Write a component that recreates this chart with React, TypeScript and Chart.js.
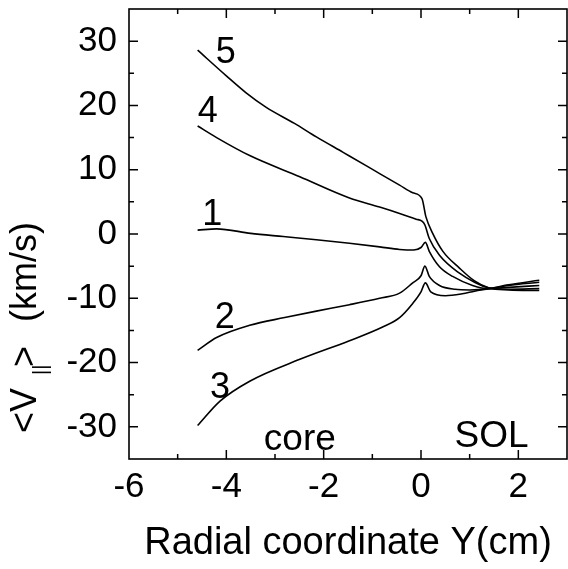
import { useEffect, useRef } from 'react';
import { Chart, registerables } from 'chart.js';

Chart.register(...registerables);

// ---- data ----
const x1 = [-4.59, -4.2, -3.5, -2.83, -2.15, -1.47, -0.85, -0.44, -0.15, 0.0, 0.09, 0.17, 0.38, 0.65, 1.06, 1.4, 1.8, 2.43];
const y1 = [0.6, 0.8, 0.1, -0.4, -0.9, -1.45, -2.0, -2.4, -2.5, -2.1, -1.3, -2.7, -5.1, -6.6, -8.0, -8.5, -8.3, -8.0];

const x2 = [-4.59, -4.2, -3.52, -2.8, -2.15, -1.47, -0.85, -0.44, -0.17, 0.0, 0.08, 0.17, 0.38, 0.7, 1.0, 1.4, 1.8, 2.43];
const y2 = [-18.1, -16.1, -14.2, -13.0, -12.0, -11.0, -10.0, -9.2, -7.6, -6.5, -5.0, -6.6, -8.0, -8.6, -8.7, -8.5, -8.0, -7.5];

const x3 = [-4.59, -4.13, -3.52, -2.49, -1.47, -0.8, -0.44, -0.17, 0.0, 0.09, 0.2, 0.5, 0.85, 1.1, 1.4, 1.8, 2.43];
const y3 = [-29.8, -26.0, -22.9, -19.5, -16.6, -14.5, -13.0, -10.8, -9.0, -7.6, -9.0, -9.6, -9.3, -8.9, -8.5, -7.9, -7.2];

const x4 = [-4.59, -4.2, -3.52, -2.49, -1.47, -0.85, -0.44, -0.1, 0.02, 0.08, 0.17, 0.38, 0.79, 1.1, 1.4, 1.8, 2.43];
const y4 = [16.8, 15.0, 12.2, 8.9, 5.6, 4.2, 3.2, 2.3, 2.0, 1.4, -0.7, -3.3, -6.1, -7.5, -8.4, -8.6, -8.5];

const x5 = [-4.59, -4.0, -3.6, -3.18, -2.6, -2.15, -1.6, -1.12, -0.85, -0.44, -0.17, 0.02, 0.1, 0.24, 0.45, 0.79, 1.1, 1.4, 1.8, 2.43];
const y5 = [28.6, 24.6, 22.0, 19.7, 17.2, 15.1, 12.7, 10.6, 9.4, 7.6, 6.4, 5.5, 2.7, 0.1, -2.7, -5.3, -7.3, -8.4, -8.7, -8.8];

const curveLabels = ['5', '4', '1', '2', '3'];
const curveLabelX = [-4.01, -4.38, -4.29, -4.03, -4.13];
const curveLabelY = [28.1, 19.0, 2.9, -13.1, -24.0];

const regionLabels = ['core', 'SOL'];
const regionLabelX = [-2.49, 1.45];
const regionLabelY = [-33.6, -33.1];

const xTicksMajor = [-6, -4, -2, 0, 2];
const yTicksMajor = [-30, -20, -10, 0, 10, 20, 30];

const xTitle = 'Radial coordinate Y(cm)';
const yTitleParts = ['<V', '||', '>', '(km/s)'];

const FONT = "'Liberation Sans', Arial, Helvetica, sans-serif";

export default function App() {
  const ref = useRef<HTMLCanvasElement>(null);

  useEffect(() => {
    const canvas = ref.current;
    if (!canvas) return;

    const series = [
      { name: '1', x: x1, y: y1 },
      { name: '2', x: x2, y: y2 },
      { name: '3', x: x3, y: y3 },
      { name: '4', x: x4, y: y4 },
      { name: '5', x: x5, y: y5 },
    ];

    const decor = {
      id: 'decor',
      afterDraw(chart: any) {
        const { ctx, chartArea } = chart;
        const xs = chart.scales.x;
        const ys = chart.scales.y;
        const { left, right, top, bottom } = chartArea;
        ctx.save();
        ctx.strokeStyle = '#000';
        ctx.fillStyle = '#000';
        ctx.lineWidth = 1.6;
        ctx.strokeRect(left, top, right - left, bottom - top);

        // inward ticks
        ctx.lineWidth = 1.5;
        ctx.beginPath();
        for (let v = -30; v <= 30; v += 5) {
          const p = ys.getPixelForValue(v);
          const len = yTicksMajor.includes(v) ? 9 : 5;
          ctx.moveTo(left, p); ctx.lineTo(left + len, p);
          ctx.moveTo(right, p); ctx.lineTo(right - len, p);
        }
        for (let v = -5; v <= 2; v += 1) {
          const p = xs.getPixelForValue(v);
          const len = xTicksMajor.includes(v) ? 9 : 5;
          ctx.moveTo(p, bottom); ctx.lineTo(p, bottom - len);
          ctx.moveTo(p, top); ctx.lineTo(p, top + len);
        }
        ctx.stroke();

        // curve labels
        ctx.font = `36px ${FONT}`;
        ctx.textAlign = 'center';
        ctx.textBaseline = 'middle';
        curveLabels.forEach((t, i) => {
          ctx.fillText(t, xs.getPixelForValue(curveLabelX[i]), ys.getPixelForValue(curveLabelY[i]));
        });
        ctx.textBaseline = 'alphabetic';
        ctx.font = `37px ${FONT}`;
        regionLabels.forEach((t, i) => {
          ctx.fillText(t, xs.getPixelForValue(regionLabelX[i]), ys.getPixelForValue(regionLabelY[i]));
        });

        // y title (rotated, with subscript)
        ctx.translate(36, 433);
        ctx.rotate(-Math.PI / 2);
        ctx.textAlign = 'left';
        ctx.textBaseline = 'alphabetic';
        ctx.font = `36px ${FONT}`;
        ctx.fillText(yTitleParts[0], 0, 0);
        ctx.font = `20px ${FONT}`;
        ctx.fillText(yTitleParts[1], 58, 11);
        ctx.font = `36px ${FONT}`;
        ctx.fillText(yTitleParts[2], 66, 0);
        ctx.fillText(yTitleParts[3], 111, 0);
        ctx.restore();
      },
    };

    const chart = new Chart(canvas, {
      type: 'line',
      data: {
        datasets: series.map((s) => ({
          label: s.name,
          data: s.x.map((x, i) => ({ x, y: s.y[i] })),
          borderColor: '#000',
          backgroundColor: '#000',
          borderWidth: 1.6,
          pointRadius: 0,
          fill: false,
          cubicInterpolationMode: 'monotone' as const,
        })),
      },
      options: {
        responsive: false,
        animation: false,
        devicePixelRatio: 1,
        layout: { padding: { left: 0, right: 1, top: 9, bottom: 0 } },
        plugins: { legend: { display: false }, tooltip: { enabled: false } },
        scales: {
          x: {
            type: 'linear',
            min: -6,
            max: 3,
            grid: { display: false, drawTicks: false },
            border: { display: false },
            ticks: {
              stepSize: 1,
              autoSkip: false,
              maxRotation: 0,
              padding: 7,
              color: '#000',
              font: { family: FONT, size: 35 },
              callback: (v: any) => (xTicksMajor.includes(Number(v)) ? String(v) : ''),
            },
            title: {
              display: true,
              text: xTitle,
              color: '#000',
              font: { family: FONT, size: 38 },
              padding: { top: 0, bottom: 3 },
            },
            afterFit: (s: any) => {
              s.height = 110;
              s.paddingLeft = 0;
              s.paddingRight = 0;
            },
          },
          y: {
            type: 'linear',
            min: -35,
            max: 35,
            grid: { display: false, drawTicks: false },
            border: { display: false },
            ticks: {
              stepSize: 5,
              autoSkip: false,
              padding: 12,
              color: '#000',
              font: { family: FONT, size: 35 },
              callback: (v: any) => (yTicksMajor.includes(Number(v)) ? String(v) : ''),
            },
            afterFit: (s: any) => {
              s.width = 129;
              s.paddingTop = 0;
              s.paddingBottom = 0;
            },
          },
        },
      },
      plugins: [decor],
    });

    return () => chart.destroy();
  }, []);

  return (
    <div style={{ position: 'absolute', left: 0, top: 0, width: 568, height: 569, background: '#fff' }}>
      <canvas ref={ref} width={568} height={569} style={{ display: 'block', width: 568, height: 569 }} />
    </div>
  );
}
